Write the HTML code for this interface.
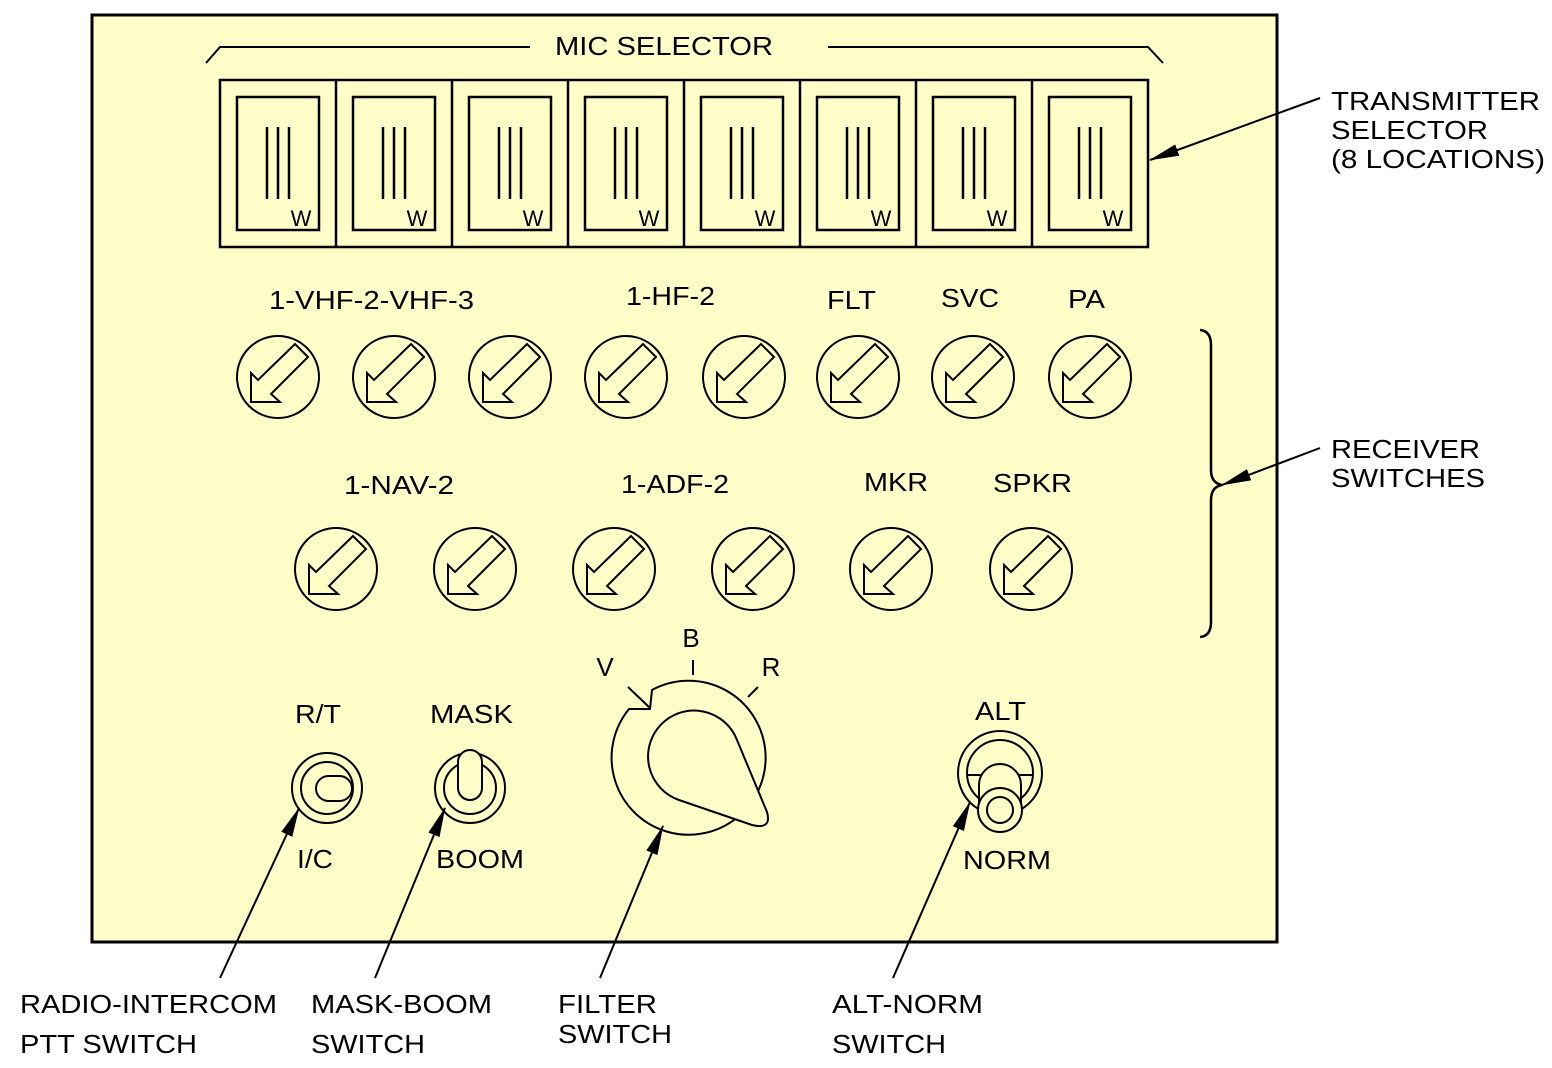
<!DOCTYPE html>
<html><head><meta charset="utf-8"><style>
html,body{margin:0;padding:0;background:#fff;}
svg{display:block;}
text{font-family:"Liberation Sans",sans-serif;fill:#000;}
</style></head><body>
<svg id="s" width="1552" height="1068" viewBox="0 0 1552 1068" xmlns="http://www.w3.org/2000/svg">
<defs>
<marker id="ah" viewBox="0 0 30 12" refX="29" refY="6" markerWidth="30" markerHeight="12" markerUnits="userSpaceOnUse" orient="auto"><path d="M0,0 L30,6 L0,12 Z" fill="#000"/></marker>
</defs>
<rect x="92" y="15" width="1185" height="927" fill="#FFFDC8" stroke="#000" stroke-width="3"/>
<g fill="none" stroke="#000" stroke-width="2">
<polyline points="206,63 220,47 530,47"/>
<polyline points="828,47 1148,47 1163,63"/>
</g>
<text x="555" y="55" font-size="26" textLength="218" lengthAdjust="spacingAndGlyphs">MIC SELECTOR</text>
<rect x="220" y="80" width="928" height="167" fill="none" stroke="#000" stroke-width="2.5"/>
<g id="tx"></g>
<g id="rx" fill="none" stroke="#000" stroke-width="2"></g>
<g>
<text x="269" y="309" font-size="26" textLength="205" lengthAdjust="spacingAndGlyphs">1-VHF-2-VHF-3</text>
<text x="626" y="305" font-size="26" textLength="89" lengthAdjust="spacingAndGlyphs">1-HF-2</text>
<text x="827" y="309" font-size="26" textLength="49" lengthAdjust="spacingAndGlyphs">FLT</text>
<text x="941" y="307" font-size="26" textLength="58" lengthAdjust="spacingAndGlyphs">SVC</text>
<text x="1068" y="308" font-size="26" textLength="37" lengthAdjust="spacingAndGlyphs">PA</text>
<text x="344" y="494" font-size="26" textLength="110" lengthAdjust="spacingAndGlyphs">1-NAV-2</text>
<text x="621" y="493" font-size="26" textLength="108" lengthAdjust="spacingAndGlyphs">1-ADF-2</text>
<text x="864" y="491" font-size="26" textLength="64" lengthAdjust="spacingAndGlyphs">MKR</text>
<text x="993" y="492" font-size="26" textLength="79" lengthAdjust="spacingAndGlyphs">SPKR</text>
</g>
<path d="M1200,330 Q1211,331 1211,345 L1211,470 Q1211,483 1222,485 Q1211,487 1211,500 L1211,622 Q1211,636 1200,637" fill="none" stroke="#000" stroke-width="2.5"/>
<g fill="none" stroke="#000" stroke-width="2">
<circle cx="327" cy="788" r="35"/><circle cx="327" cy="788" r="26"/>
<rect x="316" y="776" width="36" height="25" rx="12.5"/>
</g>
<g fill="none" stroke="#000" stroke-width="2">
<circle cx="470" cy="788" r="35"/><circle cx="470" cy="788" r="26"/>
<rect x="458" y="750" width="24" height="50" rx="12" fill="#FFFDC8"/>
</g>
<g fill="none" stroke="#000" stroke-width="2">
<path d="M652,690 A77,77 0 1 1 629,709 L650,709 Z"/>
<line x1="650" y1="708" x2="628" y2="687"/>
<line x1="693" y1="675" x2="693" y2="660"/>
<line x1="748" y1="697" x2="758" y2="687"/>
<path d="M679,800 A46,46 0 1 1 737,740 L767,812 Q772,830 752,825 Z" fill="#FFFDC8"/>
</g>
<text x="605" y="676" font-size="26" text-anchor="middle">V</text>
<text x="691" y="647" font-size="26" text-anchor="middle">B</text>
<text x="771" y="676" font-size="26" text-anchor="middle">R</text>
<g fill="none" stroke="#000" stroke-width="2">
<circle cx="1000" cy="773" r="42"/><circle cx="1000" cy="773" r="33"/>
<line x1="968" y1="775" x2="1032" y2="775"/>
<path d="M979,810 L979,785 A21,21 0 0 1 1021,785 L1021,810" fill="#FFFDC8"/>
<circle cx="1000" cy="810" r="22" fill="#FFFDC8"/><circle cx="1000" cy="810" r="13"/>
</g>
<g>
<text x="295" y="723" font-size="26" textLength="46" lengthAdjust="spacingAndGlyphs">R/T</text>
<text x="430" y="723" font-size="26" textLength="83" lengthAdjust="spacingAndGlyphs">MASK</text>
<text x="297" y="868" font-size="26" textLength="36" lengthAdjust="spacingAndGlyphs">I/C</text>
<text x="436" y="868" font-size="26" textLength="88" lengthAdjust="spacingAndGlyphs">BOOM</text>
<text x="975" y="720" font-size="26" textLength="51" lengthAdjust="spacingAndGlyphs">ALT</text>
<text x="963" y="869" font-size="26" textLength="88" lengthAdjust="spacingAndGlyphs">NORM</text>
</g>
<g stroke="#000" stroke-width="2" fill="none">
<line x1="1320" y1="98" x2="1150" y2="160" marker-end="url(#ah)"/>
<line x1="1320" y1="448" x2="1222" y2="485" marker-end="url(#ah)"/>
<line x1="220" y1="978" x2="299" y2="808" marker-end="url(#ah)"/>
<line x1="375" y1="978" x2="445" y2="808" marker-end="url(#ah)"/>
<line x1="600" y1="978" x2="663" y2="826" marker-end="url(#ah)"/>
<line x1="893" y1="978" x2="970" y2="802" marker-end="url(#ah)"/>
</g>
<g>
<text x="1331" y="110" font-size="26" textLength="209" lengthAdjust="spacingAndGlyphs">TRANSMITTER</text>
<text x="1331" y="139" font-size="26" textLength="157" lengthAdjust="spacingAndGlyphs">SELECTOR</text>
<text x="1331" y="168" font-size="26" textLength="214" lengthAdjust="spacingAndGlyphs">(8 LOCATIONS)</text>
<text x="1331" y="458" font-size="26" textLength="149" lengthAdjust="spacingAndGlyphs">RECEIVER</text>
<text x="1331" y="487" font-size="26" textLength="154" lengthAdjust="spacingAndGlyphs">SWITCHES</text>
<text x="20" y="1013" font-size="26" textLength="257" lengthAdjust="spacingAndGlyphs">RADIO-INTERCOM</text>
<text x="20" y="1053" font-size="26" textLength="177" lengthAdjust="spacingAndGlyphs">PTT SWITCH</text>
<text x="311" y="1013" font-size="26" textLength="181" lengthAdjust="spacingAndGlyphs">MASK-BOOM</text>
<text x="311" y="1053" font-size="26" textLength="114" lengthAdjust="spacingAndGlyphs">SWITCH</text>
<text x="558" y="1013" font-size="26" textLength="99" lengthAdjust="spacingAndGlyphs">FILTER</text>
<text x="558" y="1043" font-size="26" textLength="114" lengthAdjust="spacingAndGlyphs">SWITCH</text>
<text x="832" y="1013" font-size="26" textLength="151" lengthAdjust="spacingAndGlyphs">ALT-NORM</text>
<text x="832" y="1053" font-size="26" textLength="114" lengthAdjust="spacingAndGlyphs">SWITCH</text>
</g>
</svg>
<script>
const NS='http://www.w3.org/2000/svg';
const txCount=8;
const row1X=[278,394,510,626,744,858,973,1090];
const row2X=[336,475,614,753,891,1031];
function mk(tag,attrs,parent){const e=document.createElementNS(NS,tag);for(const k in attrs)e.setAttribute(k,attrs[k]);parent.appendChild(e);return e;}
const tx=document.getElementById('tx');
for(let i=0;i<txCount;i++){
  const x=220+i*116;
  const g=mk('g',{},tx);
  
  
  if(i>0)mk('line',{x1:x,y1:80,x2:x,y2:247,stroke:'#000','stroke-width':2.5},g);
  mk('rect',{x:x+17,y:97,width:82,height:133,fill:'none',stroke:'#000','stroke-width':2.5},g);
  for(const dx of [47,58,69])mk('line',{x1:x+dx,y1:127,x2:x+dx,y2:199,stroke:'#000','stroke-width':2.5},g);
  const t=mk('text',{x:x+81,y:226,'font-size':22,'text-anchor':'middle'},g);t.textContent='W';
}
const rx=document.getElementById('rx');
function knob(cx,cy,n){
  const g=mk('g',{},rx);
  
  
  mk('circle',{cx:cx,cy:cy,r:41},g);
  const p=[[-27,-4],[-20,3],[17,-33],[30,-20],[-7,17],[2,25],[-27,25]].map(a=>(cx+a[0])+','+(cy+a[1])).join(' ');
  mk('polygon',{points:p},g);
}
row1X.forEach((x,i)=>knob(x,377,i+1));
row2X.forEach((x,i)=>knob(x,569,i+9));
</script>
</body></html>
